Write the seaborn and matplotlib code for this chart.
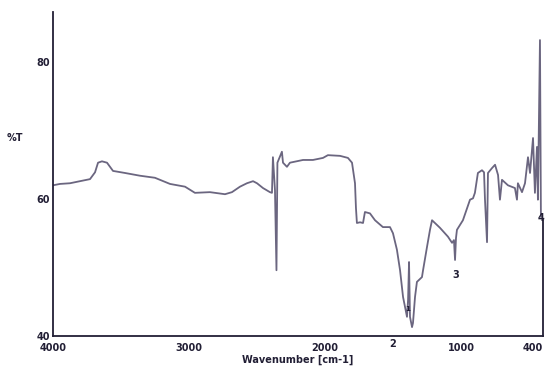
import numpy as np
import pandas as pd
import seaborn as sns
import matplotlib.pyplot as plt
from matplotlib.ticker import FixedLocator

# spectrum
wavenumber = [4000, 3949, 3875, 3802, 3728, 3691, 3669, 3640, 3603, 3559, 3471, 3361,
              3251, 3140, 3030, 2957, 2847, 2736, 2685, 2626, 2575, 2530, 2501, 2457,
              2406, 2391, 2384, 2369, 2358, 2351, 2318, 2310, 2281, 2259, 2163, 2090,
              2016, 1980, 1891, 1833, 1803, 1781, 1774, 1767, 1744, 1722, 1708, 1671,
              1634, 1576, 1524, 1502, 1473, 1450, 1428, 1413, 1399, 1391, 1384, 1377,
              1362, 1355, 1340, 1326, 1289, 1281, 1252, 1230, 1215, 1157, 1098, 1068,
              1054, 1046, 1039, 1032, 988, 936, 914, 900, 878, 848, 833, 826, 811, 804,
              775, 752, 730, 716, 701, 657, 606, 591, 584, 554, 532, 510, 495, 473, 459,
              444, 437, 422, 415]
transmittance = [62.0, 62.2, 62.3, 62.6, 62.9, 63.9, 65.3, 65.5, 65.3, 64.1, 63.8, 63.4,
                 63.1, 62.2, 61.8, 60.9, 61.0, 60.7, 61.0, 61.8, 62.3, 62.6, 62.3, 61.6,
                 61.0, 60.9, 66.1, 61.3, 49.6, 65.3, 66.9, 65.3, 64.7, 65.3, 65.7, 65.7,
                 66.0, 66.4, 66.3, 66.0, 65.3, 62.3, 58.7, 56.5, 56.6, 56.5, 58.1, 57.9,
                 56.9, 55.9, 55.9, 55.0, 52.6, 49.6, 45.7, 44.2, 42.8, 45.3, 50.8, 42.8,
                 41.3, 41.9, 45.7, 47.9, 48.6, 49.6, 53.0, 55.5, 56.9, 55.8, 54.5, 53.6,
                 54.0, 51.1, 54.3, 55.5, 56.9, 59.9, 60.1, 60.9, 63.8, 64.2, 63.9, 59.9,
                 53.7, 63.8, 64.5, 65.0, 63.5, 59.9, 62.8, 62.0, 61.6, 59.9, 62.3, 61.0,
                 62.3, 66.1, 63.8, 68.9, 60.9, 67.6, 59.9, 83.2, 57.4]

peak_labels = ["1", "2", "3", "4"]
peak_pos = [(1398, 44.0), (1505, 38.8), (1044, 48.9), (412, 57.3)]

x_major = [4000, 3000, 2000, 1000, 400]
x_minor = [3500, 2500, 1500, 500]
y_major = [40, 60, 80]
y_minor = [50, 70]

df = pd.DataFrame({"wn": wavenumber, "T": transmittance})

sns.set_style("white")
plt.rcParams["font.family"] = ["DejaVu Sans"]
plt.rcParams["font.weight"] = "bold"

fig = plt.figure(figsize=(5.49, 3.69), dpi=100)
ax = fig.add_axes([0.0965, 0.0894, 0.8925, 0.8781])

line_col = "#6b6680"
ink = "#221f35"

sns.lineplot(data=df, x="wn", y="T", sort=False, estimator=None,
             color=line_col, linewidth=1.3, ax=ax)

ax.set_xlim(4000, 400)
ax.set_ylim(40, 87.3)

ax.xaxis.set_major_locator(FixedLocator(x_major))
ax.xaxis.set_minor_locator(FixedLocator(x_minor))
ax.yaxis.set_major_locator(FixedLocator(y_major))
ax.yaxis.set_minor_locator(FixedLocator(y_minor))
ax.set_xticklabels([str(v) for v in x_major])
ax.set_yticklabels([str(v) for v in y_major])

ax.tick_params(axis="both", which="major", direction="in", length=5, width=1,
               color=ink, labelsize=7, labelcolor=ink)
ax.tick_params(axis="both", which="minor", direction="in", length=3, width=1, color=ink)
ax.tick_params(axis="x", which="major", pad=5, length=3)
ax.tick_params(axis="y", which="major", pad=2)
# last label sits against the right edge
ax.get_xticklabels()[-1].set_ha("right")

ax.spines["top"].set_visible(False)
for side in ["left", "bottom", "right"]:
    ax.spines[side].set_color(ink)
    ax.spines[side].set_linewidth(1.3)
ax.spines["right"].set_bounds(40, 57)

ax.set_xlabel("Wavenumber [cm-1]", fontsize=7, fontweight="bold", color=ink, labelpad=1)
ax.set_ylabel("")
fig.text(0.027, 0.625, "%T", fontsize=7, fontweight="bold", color=ink, ha="center", va="center")

for lab, (px, py) in zip(peak_labels, peak_pos):
    ax.text(px, py, lab, fontsize=7 if lab != "1" else 5, fontweight="bold", color=ink,
            ha="center", va="center", clip_on=False)

fig.savefig("out.png", dpi=100)
